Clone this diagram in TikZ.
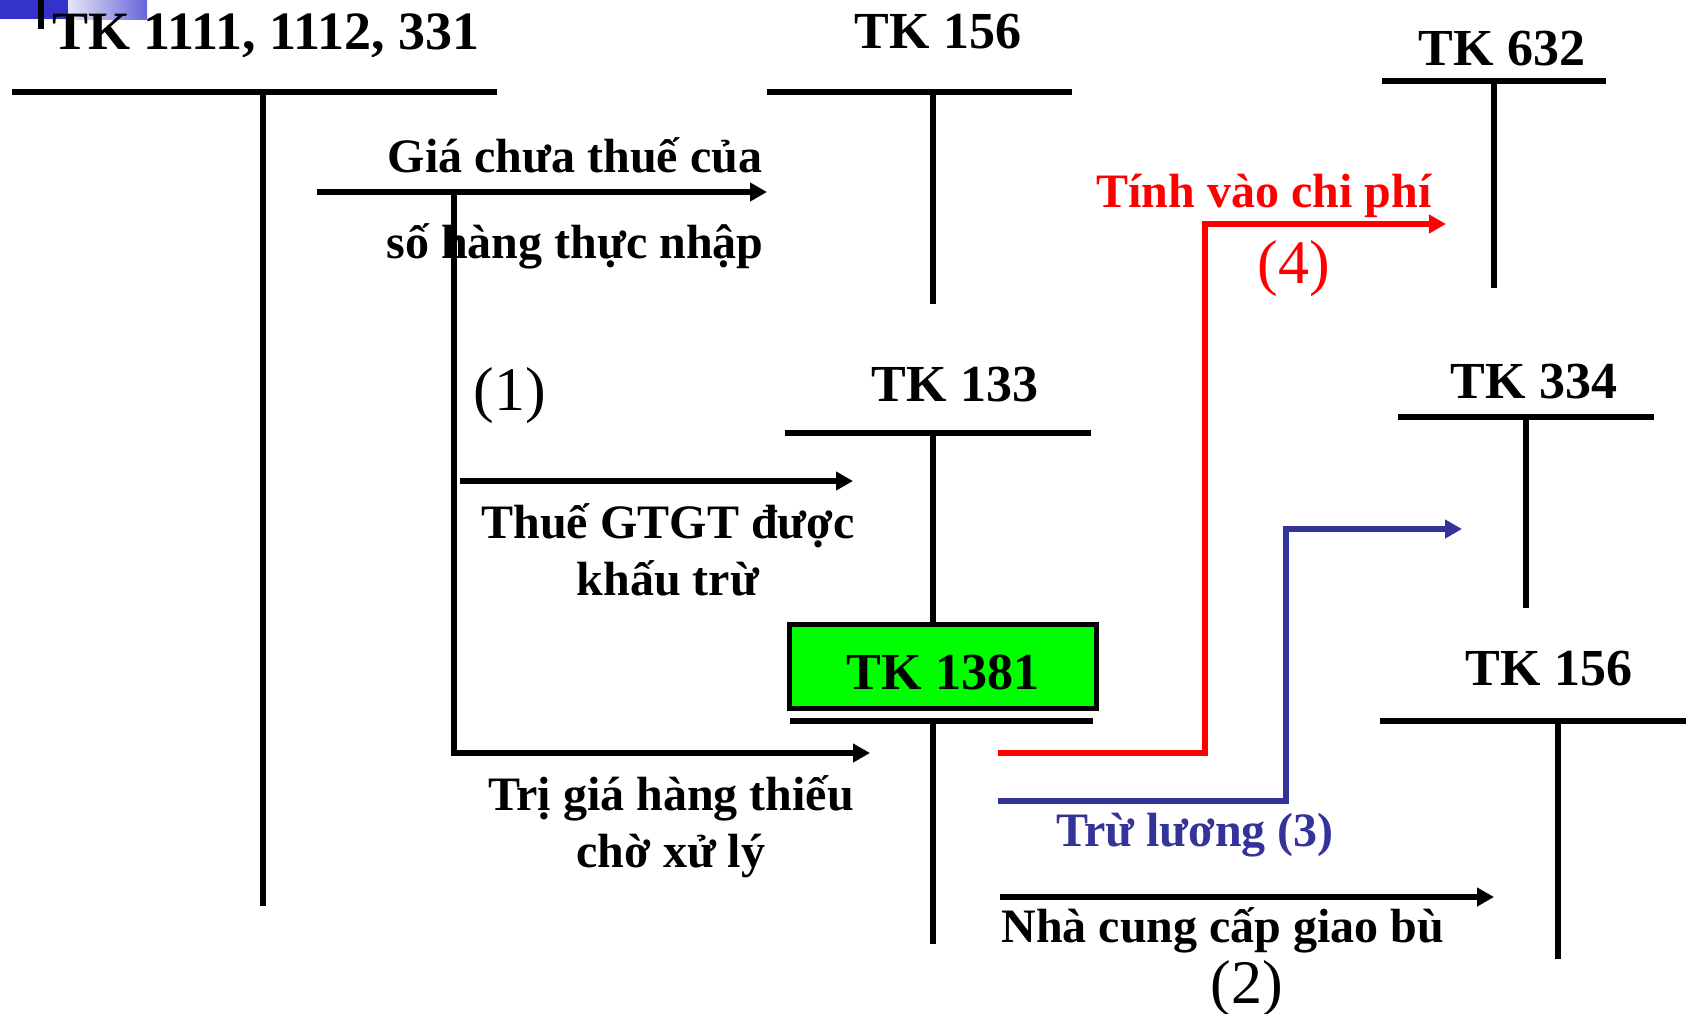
\documentclass[tikz,border=0pt]{standalone}
\usepackage{fontspec}
\setmainfont{Liberation Serif}
\usepackage{xcolor}
\usetikzlibrary{arrows.meta}
\definecolor{lossred}{RGB}{255, 0, 0}
\definecolor{wageblue}{RGB}{51, 51, 153}
\definecolor{boxgreen}{RGB}{0, 255, 0}
\definecolor{slideblue}{RGB}{51, 51, 204}

\begin{document}
\begin{tikzpicture}[x=0.5pt, y=-0.5pt,
  acct/.style={font=\fontsize{26}{30}\selectfont\bfseries, anchor=base, inner sep=0pt},
  lbl/.style={font=\fontsize{24}{28.5}\selectfont\bfseries, anchor=base, inner sep=0pt, align=center},
  num/.style={font=\fontsize{31}{36}\selectfont, anchor=base, inner sep=0pt},
  tline/.style={line width=3pt},
  flow/.style={line width=2.75pt, -{Triangle[length=8.5pt, width=9pt]}}]
\useasboundingbox (0,0) rectangle (1686,1013);

\fill[slideblue] (0,0) rectangle (68,19);
\shade[left color=slideblue!12, right color=slideblue!75] (68,0) rectangle (147,19);
\fill[black] (38,0) rectangle (44,29);

\node[acct, font=\fontsize{27}{30}\selectfont\bfseries] (tk1111) at (266,49) {TK 1111, 1112, 331};
\draw[tline] (12,92) -- (497,92);
\draw[tline] (263,92) -- (263,906);

\node[acct] (tk156a) at (938,48) {TK 156};
\draw[tline] (767,92) -- (1072,92);
\draw[tline] (933,92) -- (933,304);

\node[acct] (tk632) at (1502,65) {TK 632};
\draw[tline] (1382,81) -- (1606,81);
\draw[tline] (1494,81) -- (1494,288);

\node[acct] (tk133) at (955,401) {TK 133};
\draw[tline] (785,433) -- (1091,433);
\draw[tline] (933,433) -- (933,622);

\node[acct] (tk334) at (1534,398) {TK 334};
\draw[tline] (1398,417) -- (1654,417);
\draw[tline] (1526,417) -- (1526,608);

\node[acct] (tk156b) at (1549,685) {TK 156};
\draw[tline] (1380,721) -- (1686,721);
\draw[tline] (1558,721) -- (1558,959);

\node[draw, line width=2.5pt, fill=boxgreen, minimum width=153.5pt, minimum height=42pt,
  inner sep=0pt, text height=17.6pt, text depth=0pt,
  font=\fontsize{26}{30}\selectfont\bfseries] (tk1381) at (943,666.5) {\raisebox{-2.5pt}{TK 1381}};
\draw[tline] (790,721) -- (1093,721);
\draw[tline] (933,721) -- (933,944);

\coordinate (giaS) at (317,192);
\coordinate (giaE) at (767,192);
\coordinate (chiaS) at (454,192);
\coordinate (thueS) at (460,481);
\coordinate (thueE) at (853,481);
\coordinate (triE) at (870,753);
\coordinate (redS) at (998,753);
\coordinate (redE) at (1446,224);
\coordinate (blueS) at (998,801);
\coordinate (blueE) at (1462,529);
\coordinate (nccS) at (1000,897);
\coordinate (nccE) at (1494,897);

\draw[flow] (giaS) -- (giaE);
\draw[flow] (chiaS) |- (triE);
\draw[flow] (thueS) -- (thueE);
\draw[flow, lossred] (redS) -- (1205,753) |- (redE);
\draw[flow, wageblue] (blueS) -- (1286,801) |- (blueE);
\draw[flow] (nccS) -- (nccE);

\node[lbl] (gia) at (575,258) {Giá chưa thuế của\\[14.5pt]số hàng thực nhập};
\node[num] (n1) at (510,410) {(1)};
\node[lbl] (thue) at (668,595) {Thuế GTGT được\\khấu trừ};
\node[lbl] (tri) at (671,867) {Trị giá hàng thiếu\\chờ xử lý};
\node[lbl, lossred] (tinh) at (1264,207) {Tính vào chi phí};
\node[num, lossred] (n4) at (1294,283) {(4)};
\node[lbl, wageblue] (tru) at (1195,846) {Trừ lương (3)};
\node[lbl] (ncc) at (1223,942) {Nhà cung cấp giao bù};
\node[num] (n2) at (1247,1003) {(2)};
\end{tikzpicture}
\end{document}
